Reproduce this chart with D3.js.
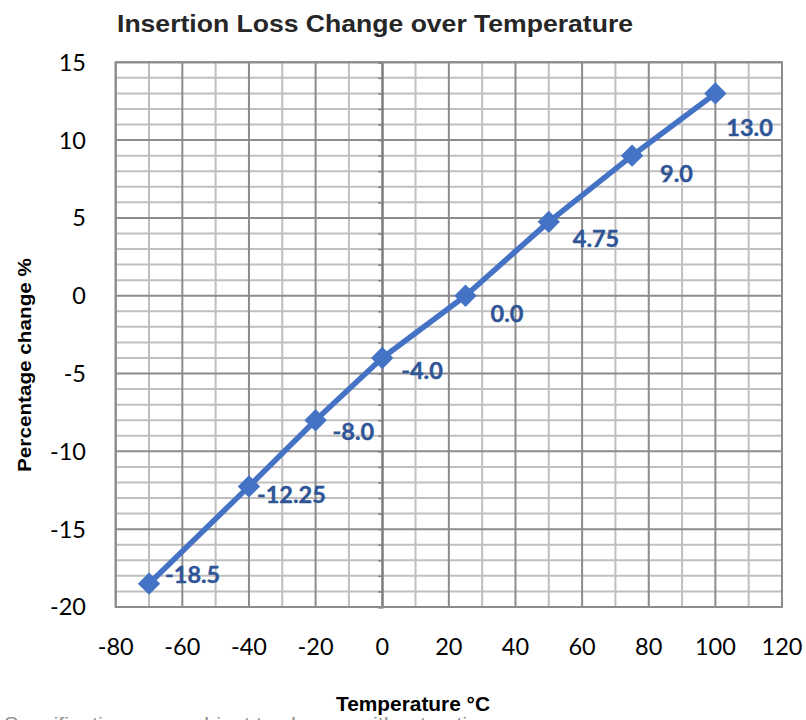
<!DOCTYPE html>
<html>
<head>
<meta charset="utf-8">
<script src="https://cdn.jsdelivr.net/npm/d3@7"></script>
<style>
  html, body { margin: 0; padding: 0; background: #fff; }
  svg { display: block; }
</style>
</head>
<body>
<svg id="chart" width="806" height="720"></svg>
<script>
// Temperature points (°C) and insertion loss change (%)
const temperatures = [-70, -40, -20, 0, 25, 50, 75, 100];
const lossChange = [-18.5, -12.25, -8.0, -4.0, 0.0, 4.75, 9.0, 13.0];
const valueLabels = ["-18.5", "-12.25", "-8.0", "-4.0", "0.0", "4.75", "9.0", "13.0"];

// Axis ticks
const xTicks = [-80, -60, -40, -20, 0, 20, 40, 60, 80, 100, 120];
const yTicks = [-20, -15, -10, -5, 0, 5, 10, 15];

// Label placement relative to each marker (left edge, baseline)
const labelOffsets = [[16, -1], [8, 17], [17, 20], [19, 21], [25, 26], [24, 25], [28, 26], [11, 43]];

const svg = d3.select("#chart");
const plot = { left: 115.7, right: 782, top: 62.3, bottom: 607 };

const x = d3.scaleLinear().domain([-80, 120]).range([plot.left, plot.right]);
const y = d3.scaleLinear().domain([-20, 15]).range([plot.bottom, plot.top]);

const minorColor = "#bfbfbf";
const majorColor = "#8c8c8c";

// Grid: minor lines first, then major lines on top
const grid = svg.append("g");
grid.selectAll("line.vminor")
  .data(d3.range(-70, 120, 20))
  .join("line")
  .attr("x1", d => x(d)).attr("x2", d => x(d))
  .attr("y1", plot.top).attr("y2", plot.bottom)
  .attr("stroke", minorColor).attr("stroke-width", 2);
grid.selectAll("line.hminor")
  .data(d3.range(-19, 15, 1).filter(v => v % 5 !== 0))
  .join("line")
  .attr("x1", plot.left).attr("x2", plot.right)
  .attr("y1", d => y(d)).attr("y2", d => y(d))
  .attr("stroke", minorColor).attr("stroke-width", 2);
grid.selectAll("line.vmajor")
  .data(xTicks)
  .join("line")
  .attr("x1", d => x(d)).attr("x2", d => x(d))
  .attr("y1", plot.top).attr("y2", plot.bottom)
  .attr("stroke", majorColor).attr("stroke-width", 2);
grid.selectAll("line.hmajor")
  .data(yTicks)
  .join("line")
  .attr("x1", plot.left).attr("x2", plot.right)
  .attr("y1", d => y(d)).attr("y2", d => y(d))
  .attr("stroke", majorColor).attr("stroke-width", 2);

// Vertical axis through 0 °C with small unit ticks
const yAxis = d3.axisLeft(y)
  .tickValues(d3.range(-20, 16, 1))
  .tickSize(4)
  .tickFormat("");
svg.append("g")
  .attr("transform", `translate(${x(0)},0)`)
  .call(yAxis)
  .call(g => g.selectAll("line").attr("stroke", "#7f7f7f").attr("stroke-width", 1.5))
  .call(g => g.select(".domain").attr("stroke", "#7f7f7f").attr("stroke-width", 2));

// Plot border
svg.append("rect")
  .attr("x", plot.left).attr("y", plot.top)
  .attr("width", plot.right - plot.left).attr("height", plot.bottom - plot.top)
  .attr("fill", "none").attr("stroke", majorColor).attr("stroke-width", 2);

// Tick labels
const tickFont = "Lato, 'Open Sans', sans-serif";
svg.append("g").selectAll("text")
  .data(xTicks)
  .join("text")
  .attr("x", d => x(d)).attr("y", 655)
  .attr("text-anchor", "middle")
  .attr("font-family", tickFont).attr("font-size", 23.5).attr("fill", "#000")
  .text(d => d);
svg.append("g").selectAll("text")
  .data(yTicks)
  .join("text")
  .attr("x", 86).attr("y", d => y(d))
  .attr("dy", "0.36em")
  .attr("text-anchor", "end")
  .attr("font-family", tickFont).attr("font-size", 23.5).attr("fill", "#000")
  .text(d => d);

// Series line and diamond markers
const points = temperatures.map((t, i) => ({ t, v: lossChange[i], label: valueLabels[i], off: labelOffsets[i] }));
const lineColor = "#4472c4";
svg.append("path")
  .datum(points)
  .attr("d", d3.line().x(d => x(d.t)).y(d => y(d.v)))
  .attr("fill", "none").attr("stroke", lineColor).attr("stroke-width", 5.5)
  .attr("stroke-linejoin", "round");
svg.append("g").selectAll("path")
  .data(points)
  .join("path")
  .attr("d", d3.symbol().type(d3.symbolSquare).size(250))
  .attr("transform", d => `translate(${x(d.t)},${y(d.v)}) rotate(45)`)
  .attr("fill", lineColor);

// Value labels
svg.append("g").selectAll("text")
  .data(points)
  .join("text")
  .attr("x", d => x(d.t) + d.off[0])
  .attr("y", d => y(d.v) + d.off[1])
  .attr("font-family", tickFont).attr("font-weight", "bold").attr("font-size", 23.5)
  .attr("fill", "#2f5597")
  .attr("stroke", "#2f5597").attr("stroke-width", 0.4)
  .text(d => d.label);

// Titles
const titleFont = "'Liberation Sans', Arial, sans-serif";
svg.append("text")
  .attr("x", 117).attr("y", 32)
  .attr("font-family", titleFont).attr("font-weight", "bold").attr("font-size", 24)
  .attr("fill", "#262626")
  .attr("textLength", 516).attr("lengthAdjust", "spacingAndGlyphs")
  .text("Insertion Loss Change over Temperature");

svg.append("text")
  .attr("x", 336).attr("y", 711)
  .attr("font-family", titleFont).attr("font-weight", "bold").attr("font-size", 20)
  .attr("fill", "#000")
  .attr("textLength", 154).attr("lengthAdjust", "spacingAndGlyphs")
  .text("Temperature °C");

svg.append("text")
  .attr("transform", "translate(31,365) rotate(-90)")
  .attr("text-anchor", "middle")
  .attr("font-family", titleFont).attr("font-weight", "bold").attr("font-size", 19)
  .attr("fill", "#000")
  .attr("textLength", 214).attr("lengthAdjust", "spacingAndGlyphs")
  .text("Percentage change %");

// Footnote line below the chart
svg.append("text")
  .attr("x", 4).attr("y", 730)
  .attr("font-family", titleFont).attr("font-size", 18)
  .attr("fill", "#8c8c8c")
  .attr("textLength", 486).attr("lengthAdjust", "spacingAndGlyphs")
  .text("Specifications are subject to change without notice");
</script>
</body>
</html>
